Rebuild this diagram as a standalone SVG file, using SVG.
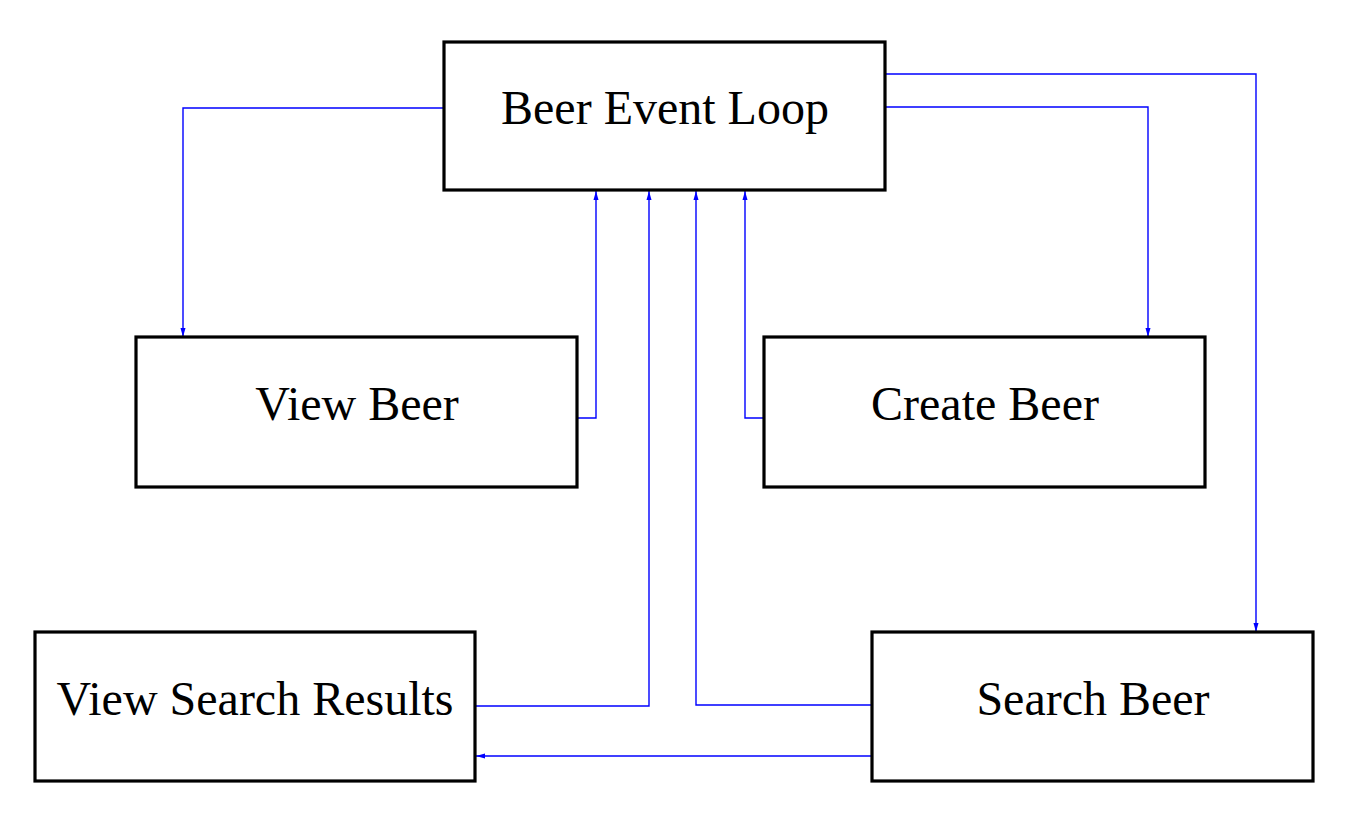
<svg xmlns="http://www.w3.org/2000/svg" width="1356" height="817" viewBox="0 0 1356 817">
<style>
.box{fill:#fff;stroke:#000;stroke-width:3.2}
.lbl{font-family:"Liberation Serif","Times New Roman",serif;font-size:48px;fill:#000;text-anchor:middle}
.c{fill:none;stroke:#0000ff;stroke-width:1.4}
</style>
<defs>
<marker id="ah" markerUnits="userSpaceOnUse" markerWidth="10" markerHeight="8" refX="9" refY="4" orient="auto">
<path d="M0,1.5 L9,4 L0,6.5 Z" fill="#0000ff"/>
</marker>
</defs>
<rect width="1356" height="817" fill="#fff"/>
<g id="connectors">
<path class="c" d="M444,108 H183 V337" marker-end="url(#ah)"/>
<path class="c" d="M885,107 H1148 V337" marker-end="url(#ah)"/>
<path class="c" d="M885,74 H1256 V632" marker-end="url(#ah)"/>
<path class="c" d="M577,418 H596 V191" marker-end="url(#ah)"/>
<path class="c" d="M764,418 H745 V191" marker-end="url(#ah)"/>
<path class="c" d="M475,706 H649 V191" marker-end="url(#ah)"/>
<path class="c" d="M872,705 H696 V191" marker-end="url(#ah)"/>
<path class="c" d="M872,756 H476" marker-end="url(#ah)"/>
</g>
<g id="node-loop">
<rect class="box" x="444" y="42" width="441" height="148"/>
<text class="lbl" x="665" y="124">Beer Event Loop</text>
</g>
<g id="node-view">
<rect class="box" x="136" y="337" width="441" height="150"/>
<text class="lbl" x="357" y="420">View Beer</text>
</g>
<g id="node-create">
<rect class="box" x="764" y="337" width="441" height="150"/>
<text class="lbl" x="985" y="420">Create Beer</text>
</g>
<g id="node-results">
<rect class="box" x="35" y="632" width="440" height="149"/>
<text class="lbl" x="255" y="715">View Search Results</text>
</g>
<g id="node-search">
<rect class="box" x="872" y="632" width="441" height="149"/>
<text class="lbl" x="1093" y="715">Search Beer</text>
</g>
</svg>
